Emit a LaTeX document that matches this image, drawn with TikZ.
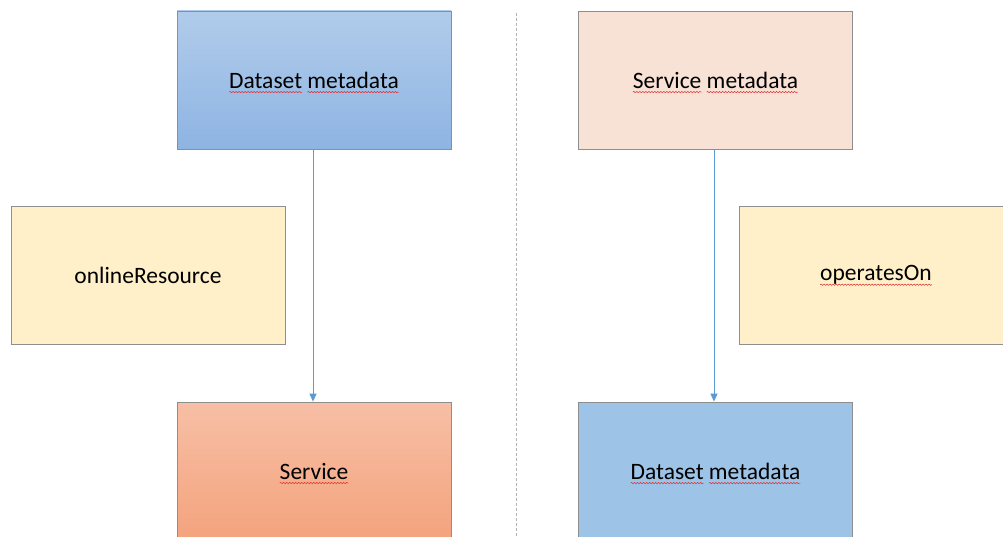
\documentclass[tikz,border=0pt]{standalone}
\usepackage{fontspec}
\setmainfont{Carlito}
\usetikzlibrary{arrows.meta,decorations.pathmorphing}
\definecolor{wavered}{HTML}{E03030}
\definecolor{dsTop}{HTML}{B1CCEA}
\definecolor{dsBot}{HTML}{8EB4E3}
\definecolor{svcMeta}{HTML}{F8E1D5}
\definecolor{yel}{HTML}{FFF0CA}
\definecolor{svTop}{HTML}{F7BFA6}
\definecolor{svBot}{HTML}{F4A37D}
\definecolor{dsFlat}{HTML}{9DC3E6}
\definecolor{edge}{HTML}{8E8E8E}
\definecolor{arrowblue}{HTML}{5B9BD5}
\newcommand\boxfont{\fontsize{23.5}{28}\selectfont}
% wavy underline of the first word of a node's text
\newcommand\wavefirst[2]{%
  \begingroup\boxfont
  \pgfmathsetlengthmacro\wb{width("#2")}%
  \draw[spellwave] ([yshift=-4pt]#1.text) -- ([shift={(\wb,-4pt)}]#1.text);
  \endgroup}
% wavy underline of the last word of a node's text
\newcommand\wavelast[3]{%
  \begingroup\boxfont
  \pgfmathsetlengthmacro\wt{width("#2")}%
  \pgfmathsetlengthmacro\wl{width("#3")}%
  \pgfmathsetlengthmacro\wa{\wt-\wl}%
  \draw[spellwave] ([shift={(\wa,-4pt)}]#1.text) -- ([shift={(\wt,-4pt)}]#1.text);
  \endgroup}
\begin{document}
\begin{tikzpicture}[x=1pt,y=-1pt,
  box/.style={draw=edge,line width=0.8pt,minimum width=274pt,minimum height=138pt,
    inner sep=0pt,font=\boxfont,text=black},
  link/.style={draw=arrowblue,line width=0.9pt,-{Triangle[length=8pt,width=7pt]}},
  divider/.style={draw=black!30,line width=0.8pt,dash pattern=on 3pt off 2pt},
  spellwave/.style={draw=wavered,line width=0.5pt,decorate,
    decoration={snake,amplitude=0.7pt,segment length=3pt}}]
\useasboundingbox (0,0) rectangle (1003,537);
\fill[white] (0,0) rectangle (1003,537);
\begin{scope}
\clip (0,0) rectangle (1003,537);
\node[box,top color=dsTop,bottom color=dsBot] (ds1) at (314,80) {Dataset metadata};
\node[box,fill=svcMeta] (sm) at (715.5,80) {Service metadata};
\node[box,fill=yel] (or) at (148,275) {onlineResource};
\node[box,fill=yel] (on) at (876,275) {operatesOn};
\node[box,top color=svTop,bottom color=svBot] (sv) at (314,471) {Service};
\node[box,fill=dsFlat] (ds2) at (715.5,471) {Dataset metadata};
\wavefirst{ds1}{Dataset}\wavelast{ds1}{Dataset metadata}{metadata}
\wavefirst{sm}{Service}\wavelast{sm}{Service metadata}{metadata}
\wavefirst{on}{operatesOn}
\wavefirst{sv}{Service}
\wavefirst{ds2}{Dataset}\wavelast{ds2}{Dataset metadata}{metadata}
\coordinate (dt) at (516,13);
\coordinate (db) at (516,537);
\draw[divider] (dt) -- (db);
\draw[link] (ds1.south -| 313,0) -- (sv.north -| 313,0);
\draw[link] (sm.south -| 714,0) -- (ds2.north -| 714,0);
\end{scope}
\end{tikzpicture}
\end{document}
